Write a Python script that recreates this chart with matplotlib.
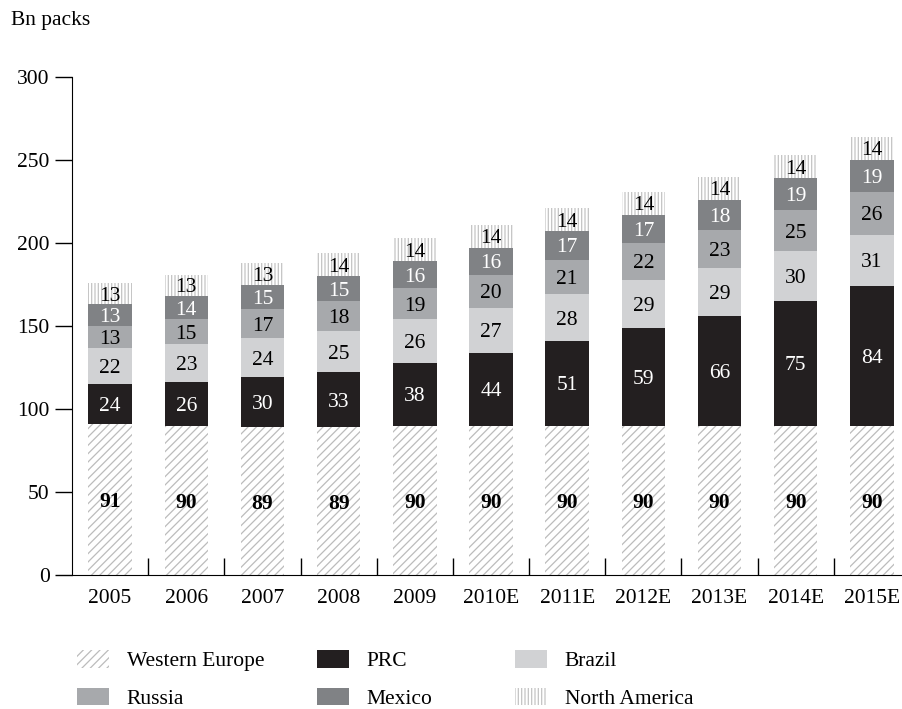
import matplotlib.pyplot as plt
import numpy as np

plt.rcParams['font.family'] = ['Liberation Serif', 'DejaVu Serif']
plt.rcParams['hatch.linewidth'] = 0.9

years = ['2005', '2006', '2007', '2008', '2009', '2010E', '2011E',
         '2012E', '2013E', '2014E', '2015E']
western_europe = [91, 90, 89, 89, 90, 90, 90, 90, 90, 90, 90]
prc = [24, 26, 30, 33, 38, 44, 51, 59, 66, 75, 84]
brazil = [22, 23, 24, 25, 26, 27, 28, 29, 29, 30, 31]
russia = [13, 15, 17, 18, 19, 20, 21, 22, 23, 25, 26]
mexico = [13, 14, 15, 15, 16, 16, 17, 17, 18, 19, 19]
north_america = [13, 13, 13, 14, 14, 14, 14, 14, 14, 14, 14]

series = [
    ('Western Europe', western_europe, 'white', '#bcbcbc', '////', 'black', 'bold'),
    ('PRC', prc, '#231f20', '#231f20', None, 'white', 'normal'),
    ('Brazil', brazil, '#d1d2d4', '#d1d2d4', None, 'black', 'normal'),
    ('Russia', russia, '#a7a9ac', '#a7a9ac', None, 'black', 'normal'),
    ('Mexico', mexico, '#808285', '#808285', None, 'white', 'normal'),
    ('North America', north_america, 'white', '#c4c4c4', '|||||', 'black', 'normal'),
]

FS = 15.5

fig = plt.figure(figsize=(9.03, 7.09), dpi=100)
ax = fig.add_axes([72 / 903, 134 / 709, 838 / 903, 498 / 709])

x = np.arange(len(years))
bottom = np.zeros(len(years))
handles = []
for name, vals, fc, ec, hatch, tc, fw in series:
    vals = np.array(vals, dtype=float)
    bars = ax.bar(x, vals, 0.57, bottom=bottom, color=fc, edgecolor=ec,
                  linewidth=0, hatch=hatch, label=name)
    handles.append(bars)
    for xi, b, v in zip(x, bottom, vals):
        ax.text(xi, b + v / 2, '%d' % v, ha='center', va='center_baseline',
                fontsize=FS, color=tc, fontweight=fw)
    bottom += vals

ax.set_xlim(-0.5, len(years) - 0.5)
ax.set_ylim(0, 300)
ax.set_yticks(range(0, 301, 50))
ax.tick_params(axis='y', direction='out', length=12, width=1, labelsize=FS, pad=4)
ax.set_xticks(x[:-1] + 0.5)
ax.set_xticklabels([])
ax.tick_params(axis='x', direction='in', length=12, width=1)
ax.set_xticks(x, minor=True)
ax.set_xticklabels(years, minor=True)
ax.tick_params(axis='x', which='minor', length=0, labelsize=FS, pad=10)
for s in ['top', 'right']:
    ax.spines[s].set_visible(False)

fig.text(11 / 903, 1 - 21 / 709, 'Bn packs', fontsize=FS, ha='left', va='center')

# legend in three columns
cols = [(0, 3), (1, 4), (2, 5)]
xs = [77 / 903, 317 / 903, 515 / 903]
for (i, j), xp in zip(cols, xs):
    fig.legend([handles[i], handles[j]], [series[i][0], series[j][0]],
               loc='upper left', bbox_to_anchor=(xp, 1 - 650 / 709),
               frameon=False, fontsize=FS, handlelength=1.5,
               handleheight=0.9, handletextpad=0.8, labelspacing=0.75,
               borderaxespad=0, borderpad=0)

fig.savefig('out.png', dpi=100)
